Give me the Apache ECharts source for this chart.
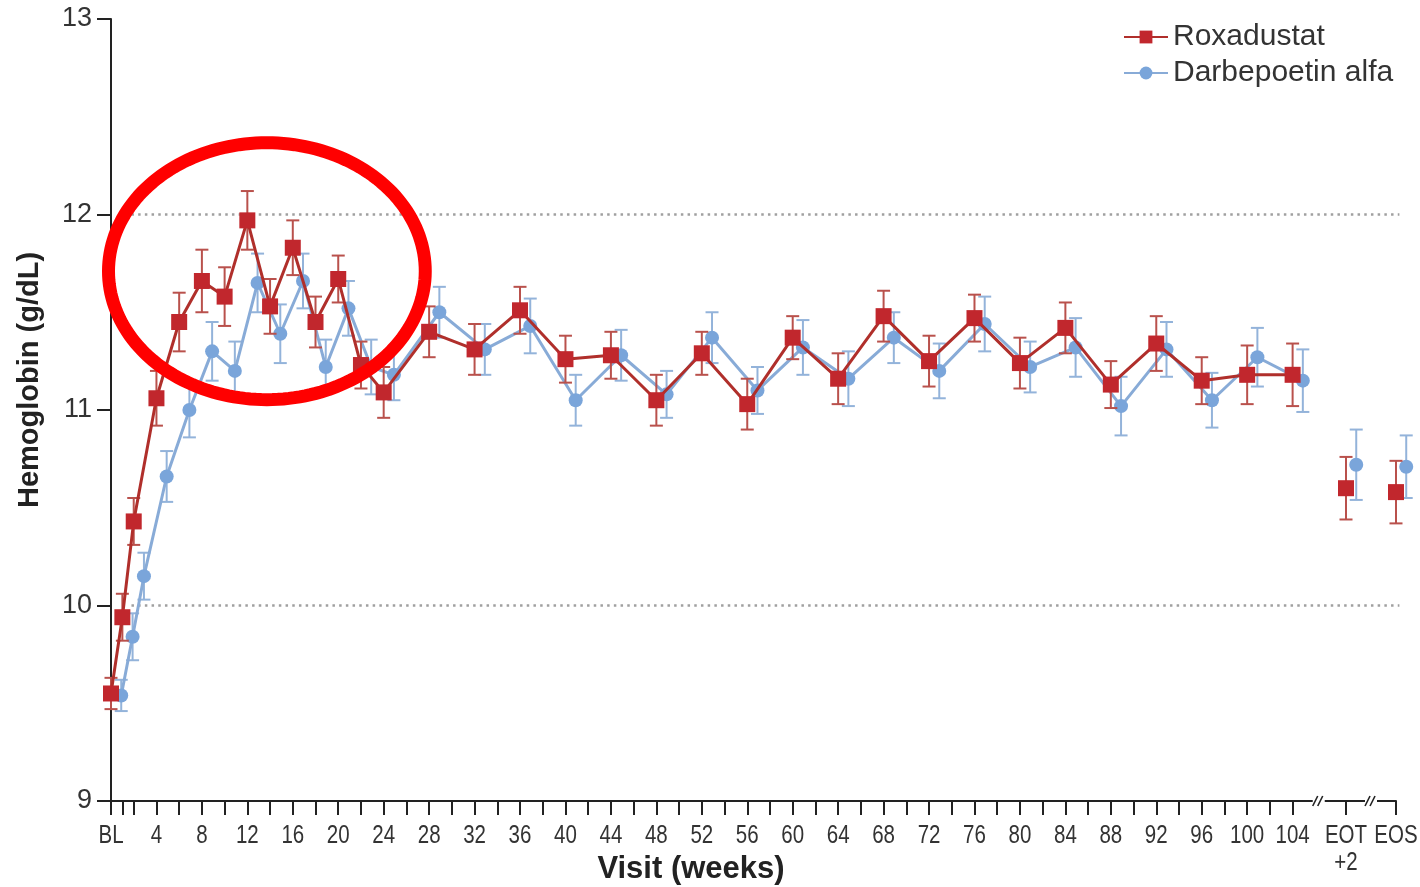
<!DOCTYPE html>
<html>
<head>
<meta charset="utf-8">
<script src="https://cdn.jsdelivr.net/npm/echarts@6/dist/echarts.min.js"></script>
<style>html,body{margin:0;padding:0;background:#fff}#c{width:1420px;height:887px}</style>
</head>
<body>
<div id="c"></div>
<script>
// ---- data ----
const weeks = [0,1,2,4,6,8,10,12,14,16,18,20,22,24,28,32,36,40,44,48,52,56,60,64,68,72,76,80,84,88,92,96,100,104];
const roxaMean = [9.55,9.94,10.43,11.06,11.45,11.66,11.58,11.97,11.53,11.83,11.45,11.67,11.23,11.09,11.40,11.31,11.51,11.26,11.28,11.05,11.29,11.03,11.37,11.16,11.48,11.25,11.47,11.24,11.42,11.13,11.34,11.15,11.18,11.18];
const roxaErr  = [0.08,0.12,0.12,0.14,0.15,0.16,0.15,0.15,0.14,0.14,0.13,0.12,0.12,0.13,0.13,0.13,0.12,0.12,0.12,0.13,0.11,0.13,0.11,0.13,0.13,0.13,0.12,0.13,0.13,0.12,0.14,0.12,0.15,0.16];
const darbMean = [9.54,9.84,10.15,10.66,11.00,11.30,11.20,11.65,11.39,11.66,11.22,11.52,11.22,11.18,11.50,11.31,11.43,11.05,11.28,11.08,11.37,11.10,11.32,11.16,11.37,11.20,11.44,11.22,11.32,11.02,11.31,11.05,11.27,11.15];
const darbErr  = [0.08,0.12,0.12,0.13,0.14,0.15,0.15,0.15,0.15,0.14,0.14,0.14,0.14,0.13,0.13,0.13,0.14,0.13,0.13,0.12,0.13,0.12,0.14,0.14,0.13,0.14,0.14,0.13,0.15,0.15,0.14,0.14,0.15,0.16];
// end-of-treatment visits
const endLabels = ['EOT\n+2','EOS'];
const endPos = [108.7, 113.1];
const roxaEndMean = [10.60, 10.58];
const roxaEndErr  = [0.16, 0.16];
const darbEndMean = [10.72, 10.71];
const darbEndErr  = [0.18, 0.16];
// axis ticks / labels
const tickWeeks = [0,1,2,4,6,8,10,12,14,16,18,20,22,24,26,28,30,32,34,36,38,40,42,44,46,48,50,52,54,56,58,60,62,64,66,68,70,72,74,76,78,80,82,84,86,88,90,92,94,96,98,100,102,104];
const labelWeeks = [0,4,8,12,16,20,24,28,32,36,40,44,48,52,56,60,64,68,72,76,80,84,88,92,96,100,104];
const labelTexts = ['BL','4','8','12','16','20','24','28','32','36','40','44','48','52','56','60','64','68','72','76','80','84','88','92','96','100','104'];
const yTicks = [9,10,11,12,13];
const refLines = [10, 12];
const refLineSpan = [1.8, 113.4];
const breakPos = [106.3, 110.9];
// annotation ellipse (data units)
const circleCenter = [13.72, 11.71];
const circleRadius = [13.94, 0.657];

const darbOffset = 0.9;
const RED = '#c1272d', RED_LINE = '#b02f2b', RED_ERR = '#b9514c';
const BLUE = '#7aa5da', BLUE_LINE = '#88abd7', BLUE_ERR = '#93b3da';
const FONT = 'Liberation Sans, Arial, Helvetica, sans-serif';

const roxaLine = weeks.map((w,i)=>[w, roxaMean[i]]);
const darbLine = weeks.map((w,i)=>[w+darbOffset, darbMean[i]]);
const roxaEB = weeks.map((w,i)=>[w, roxaMean[i]-roxaErr[i], roxaMean[i]+roxaErr[i]])
  .concat(endPos.map((p,i)=>[p, roxaEndMean[i]-roxaEndErr[i], roxaEndMean[i]+roxaEndErr[i]]));
const darbEB = weeks.map((w,i)=>[w+darbOffset, darbMean[i]-darbErr[i], darbMean[i]+darbErr[i]])
  .concat(endPos.map((p,i)=>[p+darbOffset, darbEndMean[i]-darbEndErr[i], darbEndMean[i]+darbEndErr[i]]));

const xLabelPos = labelWeeks.concat(endPos);
const xLabelTxt = labelTexts.concat(endLabels);

function errRender(color){
  return function(params, api){
    const x = api.value(0), lo = api.value(1), hi = api.value(2);
    const a = api.coord([x, hi]), b = api.coord([x, lo]);
    const w = 6.5;
    const st = {stroke: color, lineWidth: 2};
    return {type:'group', children:[
      {type:'line', shape:{x1:a[0],y1:a[1],x2:b[0],y2:b[1]}, style:st},
      {type:'line', shape:{x1:a[0]-w,y1:a[1],x2:a[0]+w,y2:a[1]}, style:st},
      {type:'line', shape:{x1:b[0]-w,y1:b[1],x2:b[0]+w,y2:b[1]}, style:st}
    ]};
  };
}

const chart = echarts.init(document.getElementById('c'));
chart.setOption({
  animation: false,
  backgroundColor: '#fff',
  grid: {left: 111, top: 19, width: 1285, height: 782},
  legend: {
    data: ['Roxadustat', 'Darbepoetin alfa'],
    orient: 'vertical', left: 1118, top: 17, itemGap: 6,
    itemWidth: 44, itemHeight: 16,
    textStyle: {fontFamily: FONT, fontSize: 30, color: '#333'}
  },
  xAxis: {
    type: 'value', min: 0, max: 113.1,
    splitLine: {show: false},
    axisLine: {show: true, lineStyle: {color: '#222', width: 2}},
    axisTick: {show: true, length: 14, customValues: tickWeeks.concat(endPos), lineStyle: {color: '#222', width: 2}},
    axisLabel: {show: false}
  },
  yAxis: {
    type: 'value', min: 9, max: 13, interval: 1,
    splitLine: {show: false},
    axisLine: {show: true, lineStyle: {color: '#222', width: 2}},
    axisTick: {show: true, length: 14, lineStyle: {color: '#222', width: 2}},
    axisLabel: {margin: 19, fontFamily: FONT, fontSize: 27, color: '#333',
      formatter: v => yTicks.indexOf(v) >= 0 ? String(v) : ''}
  },
  graphic: [
    {
      type: 'text', x: 691, y: 869,
      style: {text: 'Visit (weeks)', align: 'center', verticalAlign: 'middle', fontFamily: FONT, fontSize: 31, fontWeight: 'bold', fill: '#222'}
    },
    {
      type: 'text', x: 30, y: 380, rotation: Math.PI / 2,
      style: {text: 'Hemoglobin (g/dL)', align: 'center', verticalAlign: 'middle', fontFamily: FONT, fontSize: 29, fontWeight: 'bold', fill: '#222'}
    }
  ],
  series: [
    {
      name: 'refLines', type: 'custom', data: refLines.map(v => [refLineSpan[0], refLineSpan[1], v]),
      z: 1, silent: true, clip: false,
      renderItem: function(params, api){
        const a = api.coord([api.value(0), api.value(2)]);
        const b = api.coord([api.value(1), api.value(2)]);
        return {type:'line', shape:{x1:a[0], y1:a[1], x2:b[0], y2:b[1]},
          style:{stroke:'#a0a0a0', lineWidth: 2.5, lineDash: [2.5, 4.2]}};
      }
    },
    {
      name: 'xLabels', type: 'custom', data: xLabelPos.map(p => [p, 9]), z: 1, silent: true, clip: false,
      renderItem: function(params, api){
        const c = api.coord([api.value(0), api.value(1)]);
        return {type:'text', x: c[0], y: c[1] + 22, scaleX: 0.82,
          style:{text: xLabelTxt[params.dataIndex], x: 0, y: 0, align: 'center', verticalAlign: 'top',
            fontFamily: FONT, fontSize: 25, lineHeight: 27, fill: '#333'}};
      }
    },
    {
      name: 'darbErr', type: 'custom', renderItem: errRender(BLUE_ERR), data: darbEB,
      encode: {x: 0, y: [1, 2]}, z: 2, silent: true, clip: false
    },
    {
      name: 'Darbepoetin alfa', type: 'line', data: darbLine, z: 3,
      symbol: 'circle', symbolSize: 14, clip: false,
      itemStyle: {color: BLUE},
      lineStyle: {color: BLUE_LINE, width: 3}
    },
    {
      name: 'darbEnd', type: 'scatter', data: endPos.map((p,i)=>[p+darbOffset, darbEndMean[i]]),
      symbol: 'circle', symbolSize: 14, itemStyle: {color: BLUE, opacity: 1}, z: 3, clip: false
    },
    {
      name: 'roxaErr', type: 'custom', renderItem: errRender(RED_ERR), data: roxaEB,
      encode: {x: 0, y: [1, 2]}, z: 4, silent: true, clip: false
    },
    {
      name: 'Roxadustat', type: 'line', data: roxaLine, z: 5,
      symbol: 'rect', symbolSize: 16, clip: false,
      itemStyle: {color: RED},
      lineStyle: {color: RED_LINE, width: 3}
    },
    {
      name: 'roxaEnd', type: 'scatter', data: endPos.map((p,i)=>[p, roxaEndMean[i]]),
      symbol: 'rect', symbolSize: 16, itemStyle: {color: RED, opacity: 1}, z: 5, clip: false
    },
    {
      name: 'breaks', type: 'custom', data: breakPos.map(p=>[p, 9]), z: 6, silent: true, clip: false,
      renderItem: function(params, api){
        const c = api.coord([api.value(0), api.value(1)]);
        const st = {stroke: '#222', lineWidth: 1.6};
        return {type:'group', children:[
          {type:'rect', shape:{x:c[0]-6, y:c[1]-2, width:12, height:4}, style:{fill:'#fff'}},
          {type:'line', shape:{x1:c[0]-6, y1:c[1]+5, x2:c[0]-1, y2:c[1]-5}, style: st},
          {type:'line', shape:{x1:c[0]-1, y1:c[1]+5, x2:c[0]+4, y2:c[1]-5}, style: st}
        ]};
      }
    },
    {
      name: 'annotation', type: 'custom', data: [[circleCenter[0], circleCenter[1]]], z: 10, silent: true, clip: false,
      renderItem: function(params, api){
        const c = api.coord([api.value(0), api.value(1)]);
        const s = api.size([circleRadius[0], circleRadius[1]]);
        const pts = [];
        for (let k = 0; k < 180; k++) {
          const t = k / 180 * Math.PI * 2;
          pts.push([c[0] + s[0] * Math.cos(t), c[1] + s[1] * Math.sin(t)]);
        }
        return {type:'polygon', shape:{points: pts}, style:{fill: 'none', stroke: '#ff0000', lineWidth: 13}};
      }
    }
  ]
});
</script>
</body>
</html>
